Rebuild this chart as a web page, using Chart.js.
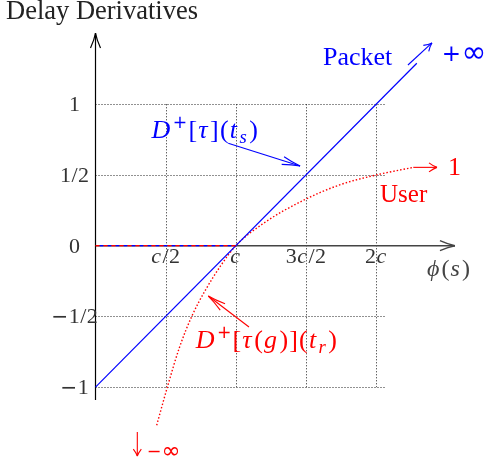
<!DOCTYPE html>
<html>
<head>
<meta charset="utf-8">
<script src="https://cdn.jsdelivr.net/npm/chart.js@4.4.1/dist/chart.umd.min.js"></script>
<style>
  html, body { margin: 0; padding: 0; background: #fff; }
  #wrap { width: 487px; height: 465px; }
</style>
</head>
<body>
<div id="wrap"><canvas id="myChart" width="487" height="465"></canvas></div>
<script>
// x values are in units of c
const xTicks = [0.5, 1, 1.5, 2];
const xTickLabels = ['c/2', 'c', '3c/2', '2c'];
const yTicks = [1, 0.5, 0, -0.5, -1];
const yTickLabels = ['1', '1/2', '0', '\u22121/2', '\u22121'];

// packet derivative, straight line
const packetX = [0, 2.29];
const packetY = [-1, 1.29];

// both derivatives are zero before c
const flatX = [0, 1];
const flatY = [0, 0];

// user derivative
const userX = [0.436, 0.515, 0.6, 0.686, 0.78, 0.89, 1.0, 1.2, 1.48, 1.74, 2.0, 2.265];
const userY = [-1.27, -0.99, -0.715, -0.5, -0.32, -0.145, 0, 0.16, 0.32, 0.43, 0.5, 0.554];

const toPoints = (xs, ys) => xs.map((x, i) => ({ x: x, y: ys[i] }));

const FONT = '"Liberation Serif", "DejaVu Serif", serif';
const SYM_FONT = '"DejaVu Sans", sans-serif';
const BLUE = '#0000ff';
const RED = '#ff0000';

//split a small math string into pieces, letters in italic, ^ and _ for sup / sub
function parseMath(str) {
  const parts = [];
  for (let i = 0; i < str.length; i++) {
    let ch = str[i];
    let mode = 0;
    if (ch === '^' || ch === '_') {
      mode = ch === '^' ? 1 : 2;
      i++;
      ch = str[i];
    }
    const italic = /[A-Za-z\u03b1-\u03c9\u03d5]/.test(ch);
    const sym = /[+\u2212\u221e]/.test(ch);
    parts.push({ t: ch, italic: italic, sym: sym, mode: mode });
  }
  return parts;
}

function drawMath(c, str, x, y, size, color, align, spacing) {
  const parts = parseMath(str);
  const gap = (spacing || 0) * size;
  let w = 0;
  parts.forEach(p => {
    let s = p.mode ? size * 0.72 : size;
    if (p.t === '\u221e') s *= 1.3;
    p.font = (p.italic ? 'italic ' : '') + (p.sym ? (s * 0.92) + 'px ' + SYM_FONT : s + 'px ' + FONT);
    c.font = p.font;
    p.w = c.measureText(p.t).width + (p.italic ? size * 0.05 : 0) + gap;
    p.dy = p.mode === 1 ? -size * 0.4 : (p.mode === 2 ? size * 0.2 : 0);
    if (p.t === '\u221e') p.dy += size * 0.04;
    w += p.w;
  });
  w -= gap;
  let cx = x;
  if (align === 'center') cx = x - w / 2;
  if (align === 'right') cx = x - w;
  c.fillStyle = color;
  c.textAlign = 'left';
  c.textBaseline = 'alphabetic';
  parts.forEach(p => {
    c.font = p.font;
    c.fillText(p.t, cx, y + p.dy);
    cx += p.w;
  });
}

function drawText(c, str, x, y, size, color) {
  c.font = size + 'px ' + FONT;
  c.fillStyle = color;
  c.textAlign = 'left';
  c.textBaseline = 'alphabetic';
  c.fillText(str, x, y);
}

function arrow(c, x1, y1, x2, y2, color, lw, len, hw) {
  c.save();
  c.strokeStyle = color;
  c.lineWidth = lw;
  c.setLineDash([]);
  c.beginPath();
  c.moveTo(x1, y1);
  c.lineTo(x2, y2);
  c.stroke();
  const a = Math.atan2(y2 - y1, x2 - x1);
  const ux = Math.cos(a), uy = Math.sin(a);
  const px = -uy, py = ux;
  [1, -1].forEach(s => {
    const bx = x2 - ux * len + px * hw * s;
    const by = y2 - uy * len + py * hw * s;
    const qx = x2 - ux * len * 0.45 + px * hw * s * 0.25;
    const qy = y2 - uy * len * 0.45 + py * hw * s * 0.25;
    c.beginPath();
    c.moveTo(bx, by);
    c.quadraticCurveTo(qx, qy, x2, y2);
    c.stroke();
  });
  c.restore();
}

const sketch = {
  id: 'sketch',
  beforeDatasetsDraw(chart) {
    const c = chart.ctx;
    const sx = chart.scales.x, sy = chart.scales.y;
    const X = v => sx.getPixelForValue(v);
    const Y = v => sy.getPixelForValue(v);
    c.save();

    //dotted grid, only over the box 0..2c, -1..1
    c.strokeStyle = '#222';
    c.lineWidth = 1;
    c.setLineDash([1, 2]);
    yTicks.forEach(t => {
      if (t === 0) return;
      c.beginPath();
      c.moveTo(X(0), Math.round(Y(t)) + 0.5);
      c.lineTo(X(2.07), Math.round(Y(t)) + 0.5);
      c.stroke();
    });
    xTicks.forEach(t => {
      c.beginPath();
      c.moveTo(Math.round(X(t)) + 0.5, Y(1));
      c.lineTo(Math.round(X(t)) + 0.5, Y(-1));
      c.stroke();
    });
    c.setLineDash([]);

    //axes with arrow heads
    arrow(c, X(0), Y(0), X(2.562), Y(0), '#444', 1.4, 15, 5);
    arrow(c, X(0), Y(-1.091), X(0), Y(1.504), '#000', 1.2, 15, 5);

    //tick labels
    xTicks.forEach((t, i) => {
      drawMath(c, xTickLabels[i], X(t), Y(0) + 17, 22, '#333', 'center', 0.02);
    });
    yTicks.forEach((t, i) => {
      drawMath(c, yTickLabels[i], X(0) - 21, Y(t) + 7, 22, '#333', 'center', 0.02);
    });
    c.restore();
  },
  afterDatasetsDraw(chart) {
    const c = chart.ctx;
    const sx = chart.scales.x, sy = chart.scales.y;
    const X = v => sx.getPixelForValue(v);
    const Y = v => sy.getPixelForValue(v);
    c.save();

    drawText(c, 'Delay Derivatives', 6, 19, 26.5, '#222');

    //packet side
    drawText(c, 'Packet', X(1.621), Y(1.278), 26, BLUE);
    arrow(c, X(2.227), Y(1.278), X(2.398), Y(1.434), BLUE, 1.1, 8, 4);
    drawMath(c, '+\u221e', X(2.468), Y(1.306), 25, BLUE, 'left', 0.02);
    drawMath(c, 'D^+[\u03c4](t_s)', X(0.40), Y(0.762), 26, BLUE, 'left', 0.045);
    arrow(c, X(0.946), Y(0.724), X(1.458), Y(0.564), BLUE, 1.1, 18, 4);

    //user side
    arrow(c, X(2.265), Y(0.554), X(2.434), Y(0.554), RED, 1.1, 8, 4.5);
    drawMath(c, '1', X(2.513), Y(0.5), 26, RED, 'left');
    drawText(c, 'User', X(2.028), Y(0.309), 25, RED);
    drawMath(c, 'D^+[\u03c4(g)](t_r)', X(0.714), Y(-0.723), 26, RED, 'left', 0.045);
    arrow(c, X(1.094), Y(-0.575), X(0.804), Y(-0.356), RED, 1.1, 18, 4);
    arrow(c, X(0.298), Y(-1.318), X(0.298), Y(-1.488), RED, 1.1, 7, 4);
    drawMath(c, '\u2212\u221e', X(0.365), Y(-1.494), 19, RED, 'left', 0.02);

    drawMath(c, '\u03d5(s)', X(2.363), Y(-0.214), 24, '#444', 'left', 0.04);
    c.restore();
  }
};

const ctx = document.getElementById('myChart');
new Chart(ctx, {
  type: 'scatter',
  data: {
    datasets: [
      {
        label: 'user zero',
        data: toPoints(flatX, flatY),
        showLine: true,
        borderColor: RED,
        borderWidth: 1.4,
        borderDash: [4, 4],
        pointRadius: 0
      },
      {
        label: 'packet zero',
        data: toPoints(flatX, flatY),
        showLine: true,
        borderColor: BLUE,
        borderWidth: 1.4,
        borderDash: [4, 4],
        borderDashOffset: 4,
        pointRadius: 0
      },
      {
        label: 'Packet',
        data: toPoints(packetX, packetY),
        showLine: true,
        borderColor: BLUE,
        borderWidth: 1.2,
        pointRadius: 0
      },
      {
        label: 'User',
        data: toPoints(userX, userY),
        showLine: true,
        borderColor: RED,
        borderWidth: 1.4,
        borderDash: [1.5, 2],
        cubicInterpolationMode: 'monotone',
        pointRadius: 0
      }
    ]
  },
  options: {
    responsive: false,
    animation: false,
    devicePixelRatio: 1,
    layout: { padding: 0 },
    plugins: {
      legend: { display: false },
      tooltip: { enabled: false }
    },
    scales: {
      x: { type: 'linear', min: -0.6807, max: 2.7904, display: false },
      y: { type: 'linear', min: -1.5509, max: 1.7376, display: false }
    }
  },
  plugins: [sketch]
});
</script>
</body>
</html>
